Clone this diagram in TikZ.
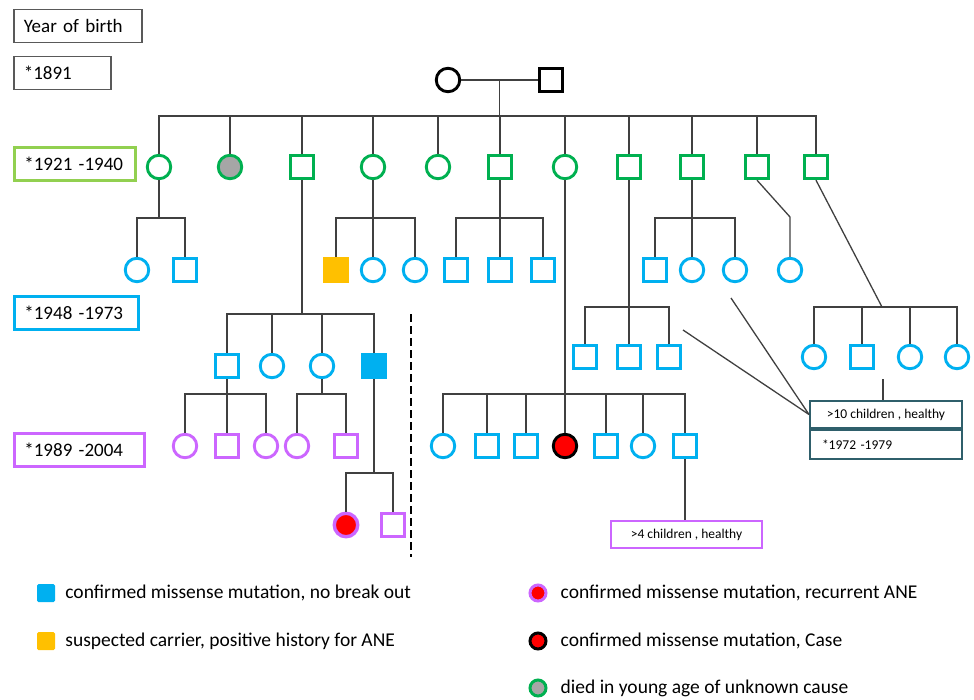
\documentclass[tikz,border=0pt]{standalone}
\usepackage{fontspec}
\setmainfont{Carlito}
\usepackage{xcolor}
\usetikzlibrary{positioning}
\definecolor{ane-green}{HTML}{00B050}
\definecolor{ane-lime}{HTML}{92D050}
\definecolor{ane-blue}{HTML}{00B0F0}
\definecolor{ane-violet}{HTML}{CC66FF}
\definecolor{ane-orange}{HTML}{FFC000}
\definecolor{ane-grey}{HTML}{A6A6A6}
\definecolor{ane-teal}{HTML}{2F5F6B}
\definecolor{ane-line}{HTML}{404040}
\tikzset{
    person/.style = {draw, fill=white, line width=2.9pt, inner sep=0pt, minimum size=23.5pt},
    male/.style = {person, rectangle},
    female/.style = {person, circle},
    kin-line/.style = {draw=ane-line, line width=1.3pt},
    year-box/.style = {draw, fill=white, rectangle, line width=2.8pt, anchor=west, minimum height=33pt, inner xsep=10pt, text width=#1, align=left, font=\fontsize{19}{21}\selectfont},
    note-box/.style = {draw, fill=white, rectangle, line width=2pt, minimum height=27pt, font=\fontsize{13.5}{15}\selectfont},
    key-text/.style = {anchor=west, inner xsep=0pt, font=\fontsize{19.5}{21}\selectfont},
}

\begin{document}
\begin{tikzpicture}[x=1pt, y=-1pt]
\useasboundingbox (0,0) rectangle (974,699);

\node[year-box=108pt, draw=black!65, line width=1.6pt] (yob) at (13,26) {Year of birth};
\node[year-box=77pt, draw=black!65, line width=1.6pt] (y0) at (13,73) {*1891};
\node[year-box=101pt, draw=ane-lime] (y1) at (13,164) {*1921 -1940};
\node[year-box=104pt, draw=ane-blue] (y2) at (13,313) {*1948 -1973};
\node[year-box=110pt, draw=ane-violet] (y3) at (13,450) {*1989 -2004};

% founders
\node[female, draw=black] (f0) at (448,80) {};
\node[male, draw=black] (m0) at (551,80) {};
\draw[kin-line] (f0.east) -- (m0.west);
\path (f0) -- (m0) coordinate[midway] (c0);
\coordinate (sib) at (c0 |- 0,116);

% generation II
\node[female, draw=ane-green] (s1) at (159,167) {};
\node[female, draw=ane-green, fill=ane-grey] (s2) at (230,167) {};
\node[male, draw=ane-green] (s3) at (302,167) {};
\node[female, draw=ane-green] (s4) at (373,167) {};
\node[female, draw=ane-green] (s5) at (438,167) {};
\node[male, draw=ane-green] (s6) at (500,167) {};
\node[female, draw=ane-green] (s7) at (565,167) {};
\node[male, draw=ane-green] (s8) at (629,167) {};
\node[male, draw=ane-green] (s9) at (692,167) {};
\node[male, draw=ane-green] (s10) at (757,167) {};
\node[male, draw=ane-green] (s11) at (816,167) {};
\draw[kin-line] (c0) -- (sib);
\draw[kin-line] (s1.north) |- (sib) -| (s11.north);
\foreach \n in {s2,s3,s4,s5,s6,s7,s8,s9,s10}
    \draw[kin-line] (\n.north) -- (\n.north |- sib);

% generation III
\node[female, draw=ane-blue] (n1a) at (137,270) {};
\node[male, draw=ane-blue] (n1b) at (185,270) {};
\coordinate (j1) at (s1 |- 0,218);
\draw[kin-line] (s1.south) -- (j1);
\draw[kin-line] (n1a.north) |- (j1) -| (n1b.north);

\node[male, draw=ane-orange, fill=ane-orange] (n4a) at (336,270) {};
\node[female, draw=ane-blue] (n4b) at (373,270) {};
\node[female, draw=ane-blue] (n4c) at (415,270) {};
\coordinate (j4) at (s4 |- 0,218);
\draw[kin-line] (s4.south) -- (n4b.north);
\draw[kin-line] (n4a.north) |- (j4) -| (n4c.north);

\node[male, draw=ane-blue] (n6a) at (456,270) {};
\node[male, draw=ane-blue] (n6b) at (500,270) {};
\node[male, draw=ane-blue] (n6c) at (543,270) {};
\coordinate (j6) at (s6 |- 0,218);
\draw[kin-line] (s6.south) -- (n6b.north);
\draw[kin-line] (n6a.north) |- (j6) -| (n6c.north);

\node[male, draw=ane-blue] (n9a) at (655,270) {};
\node[female, draw=ane-blue] (n9b) at (692,270) {};
\node[female, draw=ane-blue] (n9c) at (735,270) {};
\coordinate (j9) at (s9 |- 0,218);
\draw[kin-line] (s9.south) -- (n9b.north);
\draw[kin-line] (n9a.north) |- (j9) -| (n9c.north);

\node[female, draw=ane-blue] (n10a) at (790,270) {};
\coordinate (k10) at (n10a |- 0,217);
\draw[kin-line] (s10.south) -- (k10) -- (n10a.north);

\node[male, draw=ane-blue] (n3a) at (227,366) {};
\node[female, draw=ane-blue] (n3b) at (272,366) {};
\node[female, draw=ane-blue] (n3c) at (322,366) {};
\node[male, draw=ane-blue, fill=ane-blue] (n3d) at (374,366) {};
\coordinate (j3) at (s3 |- 0,314);
\draw[kin-line] (s3.south) -- (j3);
\draw[kin-line] (n3a.north) |- (j3) -| (n3d.north);
\draw[kin-line] (n3b.north) -- (n3b |- j3);
\draw[kin-line] (n3c.north) -- (n3c |- j3);

\node[male, draw=ane-blue] (n8a) at (585,357) {};
\node[male, draw=ane-blue] (n8b) at (629,357) {};
\node[male, draw=ane-blue] (n8c) at (669,357) {};
\coordinate (j8) at (s8 |- 0,307);
\draw[kin-line] (s8.south) -- (n8b.north);
\draw[kin-line] (n8a.north) |- (j8) -| (n8c.north);

\node[female, draw=ane-blue] (n11a) at (814,357) {};
\node[male, draw=ane-blue] (n11b) at (862,357) {};
\node[female, draw=ane-blue] (n11c) at (910,357) {};
\node[female, draw=ane-blue] (n11d) at (957,357) {};
\coordinate (j11) at (882,307);
\draw[kin-line] (s11.south) -- (j11);
\draw[kin-line] (n11a.north) |- (j11) -| (n11d.north);
\draw[kin-line] (n11b.north) -- (n11b |- j11);
\draw[kin-line] (n11c.north) -- (n11c |- j11);

\node[female, draw=ane-blue] (n7a) at (443,446) {};
\node[male, draw=ane-blue] (n7b) at (487,446) {};
\node[male, draw=ane-blue] (n7c) at (526,446) {};
\node[female, draw=black, fill=red] (n7d) at (565,446) {};
\node[male, draw=ane-blue] (n7e) at (606,446) {};
\node[female, draw=ane-blue] (n7f) at (643,446) {};
\node[male, draw=ane-blue] (n7g) at (685,446) {};
\coordinate (j7) at (s7 |- 0,394);
\draw[kin-line] (s7.south) -- (n7d.north);
\draw[kin-line] (n7a.north) |- (j7) -| (n7g.north);
\foreach \n in {n7b,n7c,n7e,n7f}
    \draw[kin-line] (\n.north) -- (\n.north |- j7);

% generation IV
\node[female, draw=ane-violet] (m1a) at (185,446) {};
\node[male, draw=ane-violet] (m1b) at (227,446) {};
\node[female, draw=ane-violet] (m1c) at (266,446) {};
\coordinate (ja) at (n3a |- 0,394);
\draw[kin-line] (n3a.south) -- (m1b.north);
\draw[kin-line] (m1a.north) |- (ja) -| (m1c.north);

\node[female, draw=ane-violet] (m3a) at (297,446) {};
\node[male, draw=ane-violet] (m3b) at (346,446) {};
\coordinate (jc) at (n3c |- 0,394);
\draw[kin-line] (n3c.south) -- (jc);
\draw[kin-line] (m3a.north) |- (jc) -| (m3b.north);

\node[female, draw=ane-violet, fill=red, line width=3.4pt] (m4a) at (346,525) {};
\node[male, draw=ane-violet] (m4b) at (393,525) {};
\coordinate (jd) at (n3d |- 0,473);
\draw[kin-line] (n3d.south) -- (jd);
\draw[kin-line] (m4a.north) |- (jd) -| (m4b.north);

\draw[line width=2.4pt, dash pattern=on 8pt off 4pt] (411,314) -- (411,557);

% notes
\node[note-box, draw=ane-violet, minimum width=151pt] (four) at (686.5,534.5) {>4 children , healthy};
\draw[kin-line] (n7g.south) -- (n7g.south |- four.north);

\node[note-box, draw=ane-teal, minimum width=152pt] (ten) at (886,414.5) {>10 children , healthy};
\node[note-box, draw=ane-teal, anchor=north, minimum height=29pt, text width=128pt, inner xsep=12pt, align=left] (yrs) at (ten.south) {*1972 -1979};
\coordinate (t0) at (883,379);
\draw[kin-line] (t0) -- (t0 |- ten.north);
\coordinate (d1) at (683,330);
\coordinate (d2) at (731,298);
\draw[kin-line] (d1) -- (ten.west);
\draw[kin-line] (d2) -- (ten.west);

% legend
\node[rectangle, fill=ane-blue, minimum size=18pt, inner sep=0pt, rounded corners=1.5pt] (k1) at (46,593) {};
\node[key-text, right=10pt of k1] {confirmed missense mutation, no break out};
\node[rectangle, fill=ane-orange, minimum size=18pt, inner sep=0pt, rounded corners=1.5pt] (k2) at (46,641) {};
\node[key-text, right=10pt of k2] {suspected carrier, positive history for ANE};
\node[circle, draw=ane-violet, fill=red, line width=3pt, minimum size=16pt, inner sep=0pt] (k3) at (538,593) {};
\node[key-text, right=13pt of k3] {confirmed missense mutation, recurrent ANE};
\node[circle, draw=black, fill=red, line width=3pt, minimum size=16pt, inner sep=0pt] (k4) at (538,641) {};
\node[key-text, right=13pt of k4] {confirmed missense mutation, Case};
\node[circle, draw=ane-green, fill=ane-grey, line width=3pt, minimum size=16pt, inner sep=0pt] (k5) at (538,688) {};
\node[key-text, right=13pt of k5] {died in young age of unknown cause};
\end{tikzpicture}
\end{document}
